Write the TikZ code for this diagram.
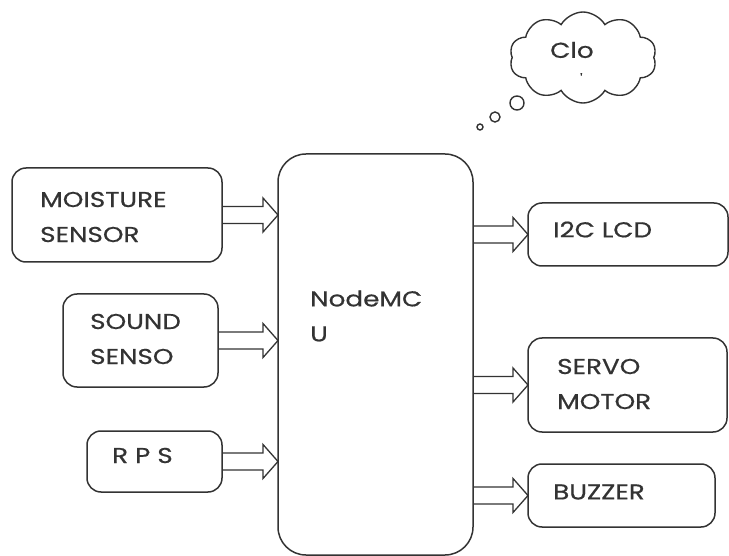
\documentclass[tikz,border=0pt]{standalone}
\usepackage{fontspec}
\setmainfont{Poppins}[FakeStretch=1.22, FakeBold=0.6]
\usepackage{tikz}
\usetikzlibrary{calc,shapes.symbols}
\definecolor{ink}{HTML}{333333}
\definecolor{txt}{HTML}{333333}
\tikzset{
  blk/.style={draw=ink, line width=1.5pt, rounded corners=14pt, inner sep=0pt, outer sep=0pt},
  mcu/.style={draw=ink, line width=1.5pt, rounded corners=28pt, inner sep=0pt, outer sep=0pt},
  arr/.style={draw=ink, line width=1.3pt, line join=miter},
  lab/.style={text=txt, font=\fontsize{21.5}{35}\selectfont, align=left, anchor=west, inner sep=0pt},
  bub/.style={draw=ink, line width=1.4pt, circle, inner sep=0pt}
}
\newcommand\blockarrow[2]{%
  \path (#1) coordinate (ba-s) (#2) coordinate (ba-e);
  \draw[arr] ($(ba-s)+(0,-8.5)$) -- ($(ba-e)+(-15,-8.5)$) -- ++(0,-8.5) -- (ba-e)
    -- ++(-15,17) -- ++(0,-8.5) -- ($(ba-s)+(0,8.5)$);}

\begin{document}
\begin{tikzpicture}[x=1pt,y=-1pt]
  \useasboundingbox (0,0) rectangle (729,556);

  \node[mcu, minimum width=195, minimum height=401] (mcu) at (375.5,354.5) {};
  \node[blk, minimum width=210, minimum height=94] (moist) at (117,215) {};
  \node[blk, minimum width=155, minimum height=93] (sound) at (140.5,340.5) {};
  \node[blk, minimum width=135, minimum height=61] (rps) at (154.5,461.5) {};
  \node[blk, minimum width=200, minimum height=63] (lcd) at (628,234.5) {};
  \node[blk, minimum width=199, minimum height=94] (servo) at (627.5,385) {};
  \node[blk, minimum width=187, minimum height=63] (buzz) at (621.5,495.5) {};

  \node[lab] (moistl) at (40,217) {MOISTURE\\SENSOR};
  \node[lab] (soundl) at (90,339) {SOUND\\SENSO};
  \node[lab] (rpsl) at (112,455.5) {R P S};
  \node[lab] (mcul) at (310,316) {NodeMC\\U};
  \node[lab] (lcdl) at (553,229.5) {I2C LCD};
  \node[lab] (servol) at (557,384) {SERVO\\MOTOR};
  \node[lab] (buzzl) at (553,492) {BUZZER};

  \blockarrow{moist.east}{moist.east -| mcu.west}
  \blockarrow{sound.east}{sound.east -| mcu.west}
  \blockarrow{rps.east}{rps.east -| mcu.west}
  \blockarrow{lcd.west -| mcu.east}{lcd.west}
  \blockarrow{servo.west -| mcu.east}{servo.west}
  \blockarrow{buzz.west -| mcu.east}{buzz.west}

  \node[cloud, draw=ink, line width=1.4pt, cloud puffs=10, cloud puff arc=120, cloud ignores aspect,
        minimum width=147, minimum height=91, inner sep=0pt] (cloud) at (583,57.5) {};
  \node[lab] (cloudl) at (550,50) {Clo};
  \node[lab, font=\fontsize{12}{12}\selectfont] (cloudm) at (580,78) {\textquotesingle};
  \node[bub, minimum size=14] (b1) at (517,103) {};
  \node[bub, minimum size=10] (b2) at (495,117) {};
  \node[bub, minimum size=6] (b3) at (480,127) {};
\end{tikzpicture}
\end{document}
